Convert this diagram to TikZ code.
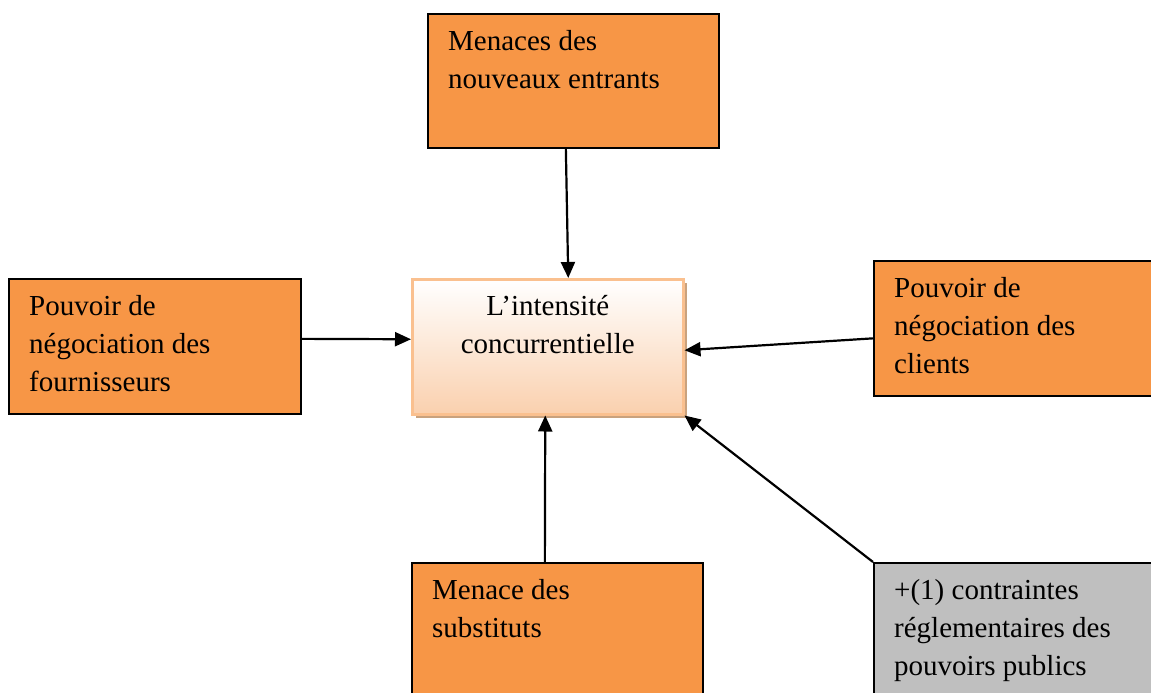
\documentclass[tikz,border=0pt]{standalone}
\usepackage{fontspec}
\setmainfont{Liberation Serif}
\usepackage{tikz}
\usetikzlibrary{arrows.meta,shadows}

\definecolor{forceorange}{HTML}{F79646}
\definecolor{forcegrey}{HTML}{BFBFBF}
\definecolor{peachline}{HTML}{FAC08F}
\definecolor{peachfill}{HTML}{FAD0AE}
\definecolor{peachshadow}{HTML}{C9A27E}

\tikzset{
  force/.style={draw, line width=1.7pt, fill=forceorange, anchor=north west, inner sep=0pt},
  forcetext/.style={anchor=north west, align=left, inner sep=0pt, xshift=21pt, yshift=-17pt},
}

\begin{document}
\begin{tikzpicture}[x=1pt, y=1pt, font=\fontsize{29}{38}\selectfont, >={Triangle[length=16pt,width=14pt]}]
 \useasboundingbox (0,0) rectangle (1151,-693);
 \node[force, minimum width=291pt, minimum height=134pt,
   label={[forcetext]north west:Menaces des\\nouveaux entrants}] (entrants) at (427,-13) {};
 \node[force, minimum width=292pt, minimum height=135pt,
   label={[forcetext]north west:Pouvoir de\\négociation des\\fournisseurs}] (fournisseurs) at (8,-278) {};
 \node[force, minimum width=290pt, minimum height=135pt,
   label={[forcetext]north west:Pouvoir de\\négociation des\\clients}] (clients) at (873,-260) {};
 \node[force, minimum width=291pt, minimum height=140pt,
   label={[forcetext]north west:Menace des\\substituts}] (substituts) at (411,-562) {};
 \node[force, fill=forcegrey, minimum width=290pt, minimum height=140pt,
   label={[forcetext]north west:+(1) contraintes\\réglementaires des\\pouvoirs publics}] (publics) at (873,-562) {};
 \node[draw=peachline, line width=2.5pt, top color=white, bottom color=peachfill,
   drop shadow={fill=peachshadow, opacity=1, shadow xshift=4pt, shadow yshift=-4pt},
   anchor=north west, minimum width=271pt, minimum height=135pt, inner sep=0pt,
   label={[anchor=north, align=center, inner sep=0pt, yshift=-17pt]north:L’intensité\\concurrentielle}] (intensite) at (411,-278) {};

 \path[->, line width=2.2pt]
  ([xshift=-7.5pt]entrants.south) edge ([xshift=20.5pt]intensite.north)
  ([yshift=7.5pt]fournisseurs.east) edge ([yshift=7.5pt]intensite.west)
  ([yshift=-10pt]clients.west) edge ([yshift=-3.5pt]intensite.east)
  ([xshift=-12.5pt]substituts.north) edge ([xshift=-2.5pt]intensite.south)
  (publics.north west) edge (intensite.south east);
\end{tikzpicture}
\end{document}
